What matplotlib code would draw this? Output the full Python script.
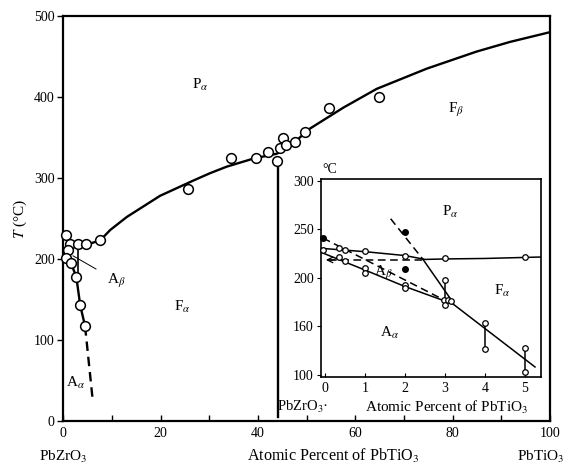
import matplotlib
matplotlib.use('Agg')
import matplotlib.pyplot as plt

plt.rcParams['font.family'] = ['Liberation Serif', 'DejaVu Serif']
plt.rcParams['mathtext.fontset'] = 'stix'

# ---- main diagram (atomic % PbTiO3 vs T) ----
curve_x = [4.6, 5.5, 7.6, 9.7, 13.1, 19.9, 26.8, 30.2, 33.6, 39.1, 43.9, 47.3, 50.7, 57.6, 64.4, 74.7, 84.9, 91.8, 100]
curve_t = [219, 219, 223, 236, 252, 278, 297, 306, 314, 324, 330, 343, 361, 387, 410, 435, 456, 468, 480]

top_seg_x, top_seg_t = [0.55, 1.5], [230, 219]
horiz_x, horiz_t = [0.6, 4.6], [219, 219]
vert_x, vert_t = [3.0, 3.0], [219, 180]
aa_x = [0.9, 1.6, 2.7, 3.5, 4.5]
aa_t = [211, 195, 178, 143, 117]
aa_dash_x, aa_dash_t = [4.5, 6.1], [117, 24]
mpb_x, mpb_t = [44.2, 44.2], [318, 5]

pts_x = [0.55, 1.5, 3.0, 4.6, 7.6, 1.0, 0.55, 1.6, 2.7, 3.5, 4.5,
         25.7, 34.4, 39.6, 42.0, 44.0, 44.6, 45.2, 45.8, 47.7, 49.7, 54.7, 64.8]
pts_t = [230, 219, 219, 219, 223, 211, 201, 195, 178, 143, 117,
         286, 325, 325, 332, 321, 337, 350, 341, 344, 357, 386, 400]

# ---- inset (0-5 %) ----
in_open_x = [-0.05, 0.35, 0.5, 0.35, 0.5, 1.0, 1.0, 1.0, 2.0, 2.0, 2.0, 3.0, 3.0,
             2.97, 3.07, 3.15, 3.0, 4.0, 4.0, 5.0, 5.0, 5.0]
in_open_t = [229, 231, 229, 222, 217, 228, 210, 205, 223, 193, 189, 220, 197.5,
             177, 177, 176, 172, 153, 127, 128, 103, 221]
in_fill_x = [-0.05, 2.0, 2.0]
in_fill_t = [241, 247, 209]

up_x = [-0.11, 1.0, 2.0, 2.5, 3.0, 4.0, 5.4]
up_t = [230.5, 227, 223, 219, 219.5, 220, 221.5]
low_x = [-0.11, 1.0, 2.0, 3.2, 5.25]
low_t = [226.5, 208, 191, 173, 108]
steep_x, steep_t = [2.45, 3.21], [219, 174]
steep_d_x, steep_d_t = [1.64, 2.45], [261, 219]
diag_d_x, diag_d_t = [-0.05, 3.03], [241, 176]
hor_d_x, hor_d_t = [0.1, 2.5], [218.5, 218.5]
bar_x = [3.0, 4.0, 5.0]
bar_hi = [197.5, 153, 128]
bar_lo = [176, 127, 103]

fig = plt.figure(figsize=(5.64, 4.65), dpi=100)
ax = fig.add_axes([0.112, 0.0946, 0.863, 0.871])

lw = 1.7
ax.plot(curve_x, curve_t, color='black', lw=lw)
ax.plot(top_seg_x, top_seg_t, color='black', lw=1.2)
ax.plot(horiz_x, horiz_t, color='black', lw=1.2)
ax.plot(vert_x, vert_t, color='black', lw=1.2)
ax.plot(aa_x, aa_t, color='black', lw=lw)
ax.plot(aa_dash_x, aa_dash_t, color='black', lw=lw, ls=(0, (4, 2.5)))
ax.plot(mpb_x, mpb_t, color='black', lw=lw)
ax.plot(pts_x, pts_t, 'o', ms=7, mfc='white', mec='black', mew=1.1, clip_on=False, zorder=5)

ax.text(28.1, 415, r'P$_\alpha$', fontsize=11, ha='center', va='center')
ax.text(80.8, 384, r'F$_\beta$', fontsize=11, ha='center', va='center')
ax.text(24.5, 141, r'F$_\alpha$', fontsize=11, ha='center', va='center')
ax.text(2.5, 47, r'A$_\alpha$', fontsize=11, ha='center', va='center')
ax.annotate(r'A$_\beta$', xy=(2.0, 204), xytext=(11, 173), fontsize=11,
            ha='center', va='center',
            arrowprops=dict(arrowstyle='-', lw=0.7, color='black', shrinkA=7, shrinkB=0))

ax.set_xlim(0, 100)
ax.set_ylim(0, 500)
ax.set_xticks(range(0, 101, 20))
ax.set_xticks(range(10, 100, 20), minor=True)
ax.set_yticks(range(0, 501, 100))
ax.tick_params(axis='x', which='both', direction='in', length=4, width=1, labelsize=10, pad=4)
ax.tick_params(axis='y', direction='out', length=4, width=1, labelsize=10, pad=2)
for s in ax.spines.values():
    s.set_linewidth(1.6)
ax.set_ylabel(r'$T$ (°C)', fontsize=11, labelpad=4)

fig.text(63 / 564, 1 - 457 / 465, r'PbZrO$_3$', fontsize=11, ha='center', va='center')
fig.text(333 / 564, 1 - 456 / 465, r'Atomic Percent of PbTiO$_3$', fontsize=11.6, ha='center', va='center')
fig.text(541 / 564, 1 - 457 / 465, r'PbTiO$_3$', fontsize=11, ha='center', va='center')

# inset
ins = fig.add_axes([0.5686, 0.19, 0.3906, 0.425])
ins.plot(up_x, up_t, color='black', lw=1.1)
ins.plot(low_x, low_t, color='black', lw=1.1)
ins.plot(steep_x, steep_t, color='black', lw=1.1)
ins.plot(steep_d_x, steep_d_t, color='black', lw=1.1, ls=(0, (5, 3)))
ins.plot(diag_d_x, diag_d_t, color='black', lw=1.1, ls=(0, (5, 3)))
ins.plot(hor_d_x, hor_d_t, color='black', lw=1.1, ls=(0, (5, 3)))
ins.vlines(bar_x, bar_lo, bar_hi, color='black', lw=1.1)
ins.plot(in_open_x, in_open_t, 'o', ms=4, mfc='white', mec='black', mew=0.9, clip_on=False, zorder=5)
ins.plot(in_fill_x, in_fill_t, 'o', ms=4, color='black', clip_on=False, zorder=5)
ins.annotate('', xy=(-0.05, 218.5), xytext=(0.3, 218.5),
             arrowprops=dict(arrowstyle='->', lw=0.9, color='black'))

ins.text(3.12, 268, r'P$_\alpha$', fontsize=11, ha='center', va='center')
ins.text(4.42, 186, r'F$_\alpha$', fontsize=11, ha='center', va='center')
ins.text(1.45, 205, r'A$_\beta$', fontsize=11, ha='center', va='center')
ins.text(1.62, 143, r'A$_\alpha$', fontsize=11, ha='center', va='center')

ins.set_xlim(-0.11, 5.4)
ins.set_ylim(98, 302)
ins.set_xticks(range(0, 6))
ins.set_yticks([100, 150, 200, 250, 300])
ins.set_yticklabels(['100', '160', '200', '250', '300'])
ins.tick_params(axis='x', direction='in', length=3, labelsize=10, pad=4)
ins.tick_params(axis='y', direction='out', length=3, labelsize=10, pad=2)
for s in ins.spines.values():
    s.set_linewidth(1.2)
fig.text(330 / 564, 1 - 169 / 465, '°C', fontsize=10, ha='center', va='center')
fig.text(303 / 564, 1 - 407 / 465, r'PbZrO$_3$·', fontsize=10.5, ha='center', va='center')
fig.text(447 / 564, 1 - 407 / 465, r'Atomic Percent of PbTiO$_3$', fontsize=11, ha='center', va='center')

fig.savefig('out.png', dpi=100)
